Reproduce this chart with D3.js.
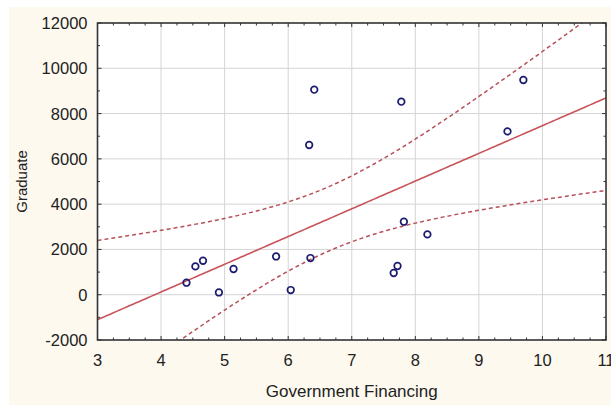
<!DOCTYPE html>
<html><head><meta charset="utf-8">
<script src="https://cdn.jsdelivr.net/npm/d3@7"></script>
<style>
body{margin:0;background:#fff;}
svg{display:block;}
text{font-family:"Liberation Sans",Arial,sans-serif;fill:#222;}
</style></head>
<body>
<svg id="c" width="611" height="405"></svg>
<script>
// Data
const financing = [4.40,4.54,4.66,4.91,5.14,5.81,6.04,6.35,6.33,6.41,7.78,9.45,9.70,7.82,8.19,7.72,7.66];
const graduate  = [530,1250,1500,100,1135,1690,207,1620,6612,9055,8525,7213,9483,3224,2663,1268,958];
const xTicks = [3,4,5,6,7,8,9,10,11];
const yTicks = [-2000,0,2000,4000,6000,8000,10000,12000];
const xTitle = "Government Financing";
const yTitle = "Graduate";

const svg = d3.select("#c");
const W = 611, H = 405;
const m = {l:97.5, r:5, t:23, b:65};
svg.append("rect").attr("x",9).attr("y",7).attr("width",W-9).attr("height",H-7).attr("fill","#fdf9ef");

const x = d3.scaleLinear().domain([3,11]).range([m.l, W-m.r]);
const y = d3.scaleLinear().domain([-2000,12000]).range([H-m.b, m.t]);

const pw = W-m.r-m.l, ph = H-m.b-m.t;
svg.append("rect").attr("x",m.l).attr("y",m.t).attr("width",pw).attr("height",ph).attr("fill","#fff");

const defs = svg.append("defs");
defs.append("clipPath").attr("id","clip").append("rect").attr("x",m.l).attr("y",m.t).attr("width",pw).attr("height",ph);

// grid
const g = svg.append("g");
g.selectAll("line.gx").data(xTicks.slice(1,-1)).join("line")
  .attr("x1",d=>x(d)).attr("x2",d=>x(d)).attr("y1",m.t).attr("y2",H-m.b)
  .attr("stroke","#d4d4d4").attr("stroke-width",1);
g.selectAll("line.gy").data(yTicks.slice(1,-1)).join("line")
  .attr("y1",d=>y(d)).attr("y2",d=>y(d)).attr("x1",m.l).attr("x2",W-m.r)
  .attr("stroke","#d4d4d4").attr("stroke-width",1);

// regression
const n = financing.length;
const mx = d3.mean(financing), my = d3.mean(graduate);
let sxx=0, sxy=0;
for(let i=0;i<n;i++){sxx+=(financing[i]-mx)**2; sxy+=(financing[i]-mx)*(graduate[i]-my);}
const b1 = sxy/sxx, b0 = my-b1*mx;
let sse=0; for(let i=0;i<n;i++){sse+=(graduate[i]-b0-b1*financing[i])**2;}
const s = Math.sqrt(sse/(n-2));
const tval = 2.131;
const xs = d3.range(3,11.001,0.05);
const fit = xs.map(v=>[v,b0+b1*v]);
const half = v=> tval*s*Math.sqrt(1/n+(v-mx)**2/sxx);
const up = xs.map(v=>[v,b0+b1*v+half(v)]);
const lo = xs.map(v=>[v,b0+b1*v-half(v)]);
const line = d3.line().x(d=>x(d[0])).y(d=>y(d[1]));
const cg = svg.append("g").attr("clip-path","url(#clip)");
cg.append("path").attr("d",line(fit)).attr("fill","none").attr("stroke","#c8545a").attr("stroke-width",1.6);
[up,lo].forEach(a=>cg.append("path").attr("d",line(a)).attr("fill","none").attr("stroke","#b8505a").attr("stroke-width",1.5).attr("stroke-dasharray","4,3"));

// points
svg.selectAll("circle.p").data(financing.map((v,i)=>[v,graduate[i]])).join("circle")
  .attr("cx",d=>x(d[0])).attr("cy",d=>y(d[1])).attr("r",3.3)
  .attr("fill","none").attr("stroke","#1c1c6e").attr("stroke-width",1.7);

// axes with inward ticks
const minorX = d3.range(3,11.001,0.25);
const minorY = d3.range(-2000,12001,1000);
const tickG = svg.append("g").attr("stroke","#333").attr("stroke-width",1);
minorX.forEach(v=>{
  const major = Math.abs(v-Math.round(v))<1e-6;
  const L = major?4:2.5;
  tickG.append("line").attr("x1",x(v)).attr("x2",x(v)).attr("y1",H-m.b).attr("y2",H-m.b-L);
  tickG.append("line").attr("x1",x(v)).attr("x2",x(v)).attr("y1",m.t).attr("y2",m.t+L);
});
minorY.forEach(v=>{
  const major = v%2000===0;
  const L = major?4:2.5;
  tickG.append("line").attr("y1",y(v)).attr("y2",y(v)).attr("x1",m.l).attr("x2",m.l+L);
  tickG.append("line").attr("y1",y(v)).attr("y2",y(v)).attr("x1",W-m.r).attr("x2",W-m.r-L);
});
svg.append("rect").attr("x",m.l).attr("y",m.t).attr("width",pw).attr("height",ph)
  .attr("fill","none").attr("stroke","#333").attr("stroke-width",1.6);

// labels
svg.selectAll("text.xt").data(xTicks).join("text")
  .attr("x",d=>x(d)).attr("y",H-m.b+26).attr("text-anchor","middle")
  .style("font-size","16.5px").text(d=>d);
svg.selectAll("text.yt").data(yTicks).join("text")
  .attr("x",m.l-10).attr("y",d=>y(d)+6).attr("text-anchor","end")
  .style("font-size","16.5px").text(d=>d);
svg.append("text").attr("x",(m.l+W-m.r)/2).attr("y",H-8).attr("text-anchor","middle")
  .style("font-size","17px").text(xTitle);
svg.append("text").attr("transform",`translate(27,${(m.t+H-m.b)/2}) rotate(-90)`).attr("text-anchor","middle")
  .style("font-size","15px").text(yTitle);
</script>
</body></html>
